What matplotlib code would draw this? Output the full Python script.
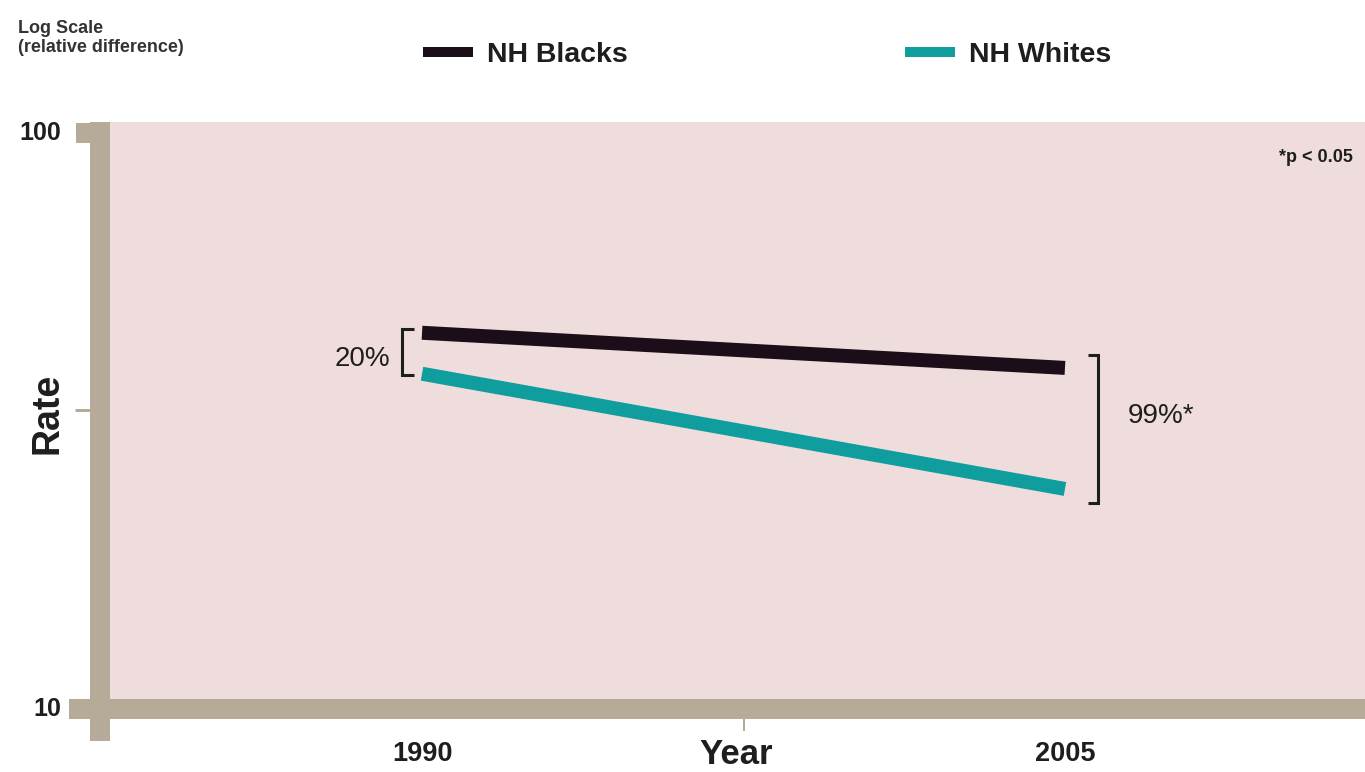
import matplotlib
matplotlib.use("Agg")
import matplotlib.pyplot as plt
import matplotlib.transforms as mtransforms
from matplotlib.ticker import NullLocator

plt.rcParams['font.family'] = ['Liberation Sans', 'DejaVu Sans']

# values (log scale)
years = [1990, 2005]
year_labels = ['1990', '2005']
series_names = ['NH Blacks', 'NH Whites']
nh_blacks = [45.0, 39.1]
nh_whites = [38.2, 24.1]
gap_labels = ['20%', '99%*']
y_tick_values = [100, 10]
y_tick_labels = ['100', '10']

PINK = '#efdcdc'
TAN = '#b6aa98'
BLACK = '#1c0e18'
TEAL = '#0f9d9d'
INK = '#1e1e1e'

W, H = 1365, 772
fig = plt.figure(figsize=(W / 100, H / 100), dpi=100)

# plot area in pixels
L, T, R, B = 110, 122, 1365, 699
ax = fig.add_axes([L / W, 1 - B / H, (R - L) / W, (B - T) / H])
ax.set_facecolor(PINK)
ax.set_yscale('log')
ax.set_xlim(1982.72, 2012.0)
ax.set_ylim(10.408, 104.5)
for s in ax.spines.values():
    s.set_visible(False)
ax.yaxis.set_major_locator(NullLocator())
ax.yaxis.set_minor_locator(NullLocator())
ax.xaxis.set_minor_locator(NullLocator())
ax.set_xticks(years, year_labels, fontsize=19.5, fontweight='bold', color=INK)
ax.tick_params(axis='x', length=0, pad=30)


def ax_x(px):
    return (px - L) / (R - L)


def ax_y(py):
    return (B - py) / (B - T)


def fx(px):
    return px / W


def fy(py):
    return 1 - py / H


PX = 72 / 100  # points per pixel
y_blend = mtransforms.blended_transform_factory(ax.transAxes, ax.transData)
x_blend = mtransforms.blended_transform_factory(ax.transData, ax.transAxes)
bar = dict(color=TAN, solid_capstyle='butt', clip_on=False, zorder=5)

# thick axis bars
ax.plot([ax_x(100), ax_x(100)], [1, ax_y(741)], transform=ax.transAxes, lw=20 * PX, **bar)
ax.plot([ax_x(69), 1.0], [10, 10], transform=y_blend, lw=20 * PX, **bar)
ax.plot([ax_x(76), ax_x(100)], [100, 100], transform=y_blend, lw=20 * PX, **bar)
ax.plot([ax_x(75), ax_x(91)], [33, 33], transform=y_blend, lw=3 * PX, **bar)
ax.plot([1997.5, 1997.5], [ax_y(718), ax_y(731)], transform=x_blend, lw=2 * PX, **bar)

for v, lab in zip(y_tick_values, y_tick_labels):
    ax.text(ax_x(61), v, lab, transform=y_blend, ha='right', va='center',
            fontsize=18, fontweight='bold', color=INK, clip_on=False)

# series
h1, = ax.plot(years, nh_blacks, color=BLACK, lw=14 * PX, solid_capstyle='butt',
              label=series_names[0], zorder=3)
h2, = ax.plot(years, nh_whites, color=TEAL, lw=14 * PX, solid_capstyle='butt',
              label=series_names[1], zorder=3)


def bracket(x_spine, x_tip, y_top, y_bot):
    ax.plot([x_tip, x_spine, x_spine, x_tip], [y_top, y_top, y_bot, y_bot],
            color=INK, lw=2.2, solid_joinstyle='miter', solid_capstyle='butt', zorder=4)


bracket(1989.53, 1989.81, nh_blacks[0] * 1.016, nh_whites[0] * 0.995)
bracket(2005.77, 2005.54, nh_blacks[1] * 1.053, nh_whites[1] / 1.057)
ax.text(1989.25, 40.5, gap_labels[0], ha='right', va='center', fontsize=20, color=INK)
ax.text(2006.47, 32.2, gap_labels[1], ha='left', va='center', fontsize=20, color=INK)

leg = fig.legend(handles=[h1, h2], loc='center left', bbox_to_anchor=(fx(423), fy(55)),
                 ncol=2, frameon=False, prop={'weight': 'bold', 'size': 20.5},
                 handlelength=1.75, handletextpad=0.49, columnspacing=9.75,
                 borderpad=0, borderaxespad=0)
for ln in leg.get_lines():
    ln.set_linewidth(10 * PX)
    ln.set_solid_capstyle('butt')
for t in leg.get_texts():
    t.set_color(INK)

fig.text(fx(48), fy(413), 'Rate', rotation=90, fontsize=27, fontweight='bold',
         ha='center', va='center', color=INK)
fig.text(fx(736), fy(771.5), 'Year', fontsize=25, fontweight='bold',
         ha='center', va='bottom', color=INK)
fig.text(fx(18), fy(33), 'Log Scale', fontsize=13, fontweight='bold',
         ha='left', va='baseline', color='#333333')
fig.text(fx(18), fy(52), '(relative difference)', fontsize=13, fontweight='bold',
         ha='left', va='baseline', color='#333333')
fig.text(fx(1353), fy(157), '*p < 0.05', fontsize=13, fontweight='bold',
         ha='right', va='center', color=INK)

fig.savefig('out.png', dpi=100)
